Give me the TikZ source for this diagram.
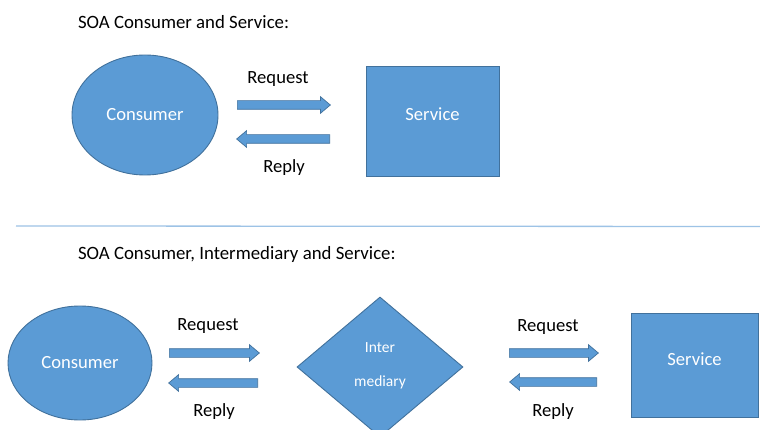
\documentclass[tikz,border=0pt]{standalone}
\usepackage{fontspec}
\setmainfont{Carlito}
\usetikzlibrary{shapes.geometric,shapes.arrows}
\definecolor{shapefill}{HTML}{5B9BD5}
\definecolor{shapeedge}{HTML}{41719C}
\definecolor{rulecol}{HTML}{9DC3E6}
\tikzset{
  base/.style={fill=shapefill,draw=shapeedge,line width=0.9pt,text=white,font=\fontsize{18.6}{22}\selectfont,inner sep=0pt},
  oval/.style={base,ellipse},
  boxnode/.style={base,rectangle},
  gem/.style={base,diamond},
  gemtext/.style={text=white,font=\fontsize{15.5}{18}\selectfont},
  rarrow/.style={single arrow,fill=shapefill,draw=shapeedge,line width=0.7pt,
    minimum height=#1,minimum width=16pt,single arrow head extend=4pt,
    single arrow tip angle=80,inner xsep=0pt,inner ysep=4pt,anchor=tail},
  larrow/.style={rarrow=#1,shape border rotate=180},
  title/.style={font=\fontsize{18.8}{22}\selectfont,anchor=west},
  lbl/.style={font=\fontsize{18.6}{22}\selectfont}
}
\begin{document}
\begin{tikzpicture}[x=1pt,y=-1pt]
\useasboundingbox (0,0) rectangle (760,430);
\fill[white] (0,0) rectangle (760,430);

% --- upper part: consumer and service
\node[title] (t1) at (74.5,22) {SOA Consumer and Service:};
\node[oval,minimum width=146pt,minimum height=120pt] (c1) at (145,115) {Consumer};
\node[boxnode,minimum width=133pt,minimum height=110pt] (s1) at (432.5,121) {\raisebox{14pt}{Service}};
\node[rarrow=93pt] (q1) at (237,105) {};
\node[larrow=93pt] (r1) at (330,139) {};
\node[lbl] (q1l) at (278,79) {Request};
\node[lbl] (r1l) at (284,168) {Reply};

% separator line
\coordinate (sepL) at (16,226);
\coordinate (sepR) at (760,226.5);
\draw[rulecol,line width=1.3pt] (sepL) -- (sepR);

% --- lower part: consumer, intermediary and service
\node[title] (t2) at (74.5,254) {SOA Consumer, Intermediary and Service:};
\node[oval,minimum width=144pt,minimum height=114pt] (c2) at (80,363) {Consumer};
\node[rarrow=90pt] (q2) at (169,353) {};
\node[larrow=89pt] (r2) at (258,383) {};
\node[lbl] (q2l) at (208,326) {Request};
\node[lbl] (r2l) at (214,412) {Reply};

\node[gem,minimum width=166pt,minimum height=140pt,aspect=1.19] (d) at (380,367) {};
\node[gemtext] (d1) at (380,348) {Inter};
\node[gemtext] (d2) at (380,382) {mediary};

\node[rarrow=89pt] (q3) at (509,353) {};
\node[larrow=87pt] (r3) at (597,382) {};
\node[lbl] (q3l) at (548,327) {Request};
\node[lbl] (r3l) at (553,412) {Reply};
\node[boxnode,minimum width=127pt,minimum height=104pt] (s2) at (694.5,365.5) {\raisebox{13pt}{Service}};
\end{tikzpicture}
\end{document}
